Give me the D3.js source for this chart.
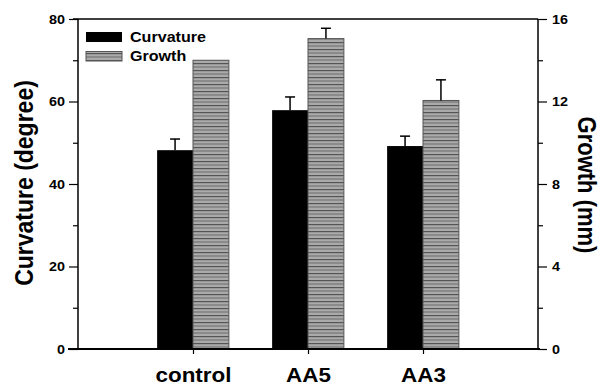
<!DOCTYPE html>
<html lang="en">
<head>
    <meta charset="UTF-8">
    <title>Curvature and growth</title>
    <style>
        body { margin: 0; background: #fff; }
        text { font-family: "Liberation Sans", Arial, sans-serif; font-weight: bold; fill: #000; }
    </style>
</head>
<script src="https://d3js.org/d3.v7.min.js"></script>
<body>
<svg width="600" height="388" class="chart"></svg>

<script>
    var categories = ["control", "AA5", "AA3"];
    var curvature = [48.2, 57.9, 49.2];
    var curvatureErr = [2.7, 3.2, 2.4];
    var growth = [14.0, 15.05, 12.05];
    var growthErr = [0, 0.5, 1.0];
    var leftTicks = [0, 20, 40, 60, 80];
    var rightTicks = [0, 4, 8, 12, 16];

    var svg = d3.select("svg.chart");
    var plotLeft = 78, plotRight = 538, plotTop = 19, plotBottom = 349;
    var sx = 1.15; // text in the original is a bit wider than normal

    var x = d3.scaleLinear().domain([0, 4]).range([plotLeft, plotRight]);
    var yL = d3.scaleLinear().domain([0, 80]).range([plotBottom, plotTop]);
    var yR = d3.scaleLinear().domain([0, 16]).range([plotBottom, plotTop]);
    var barW = (x(1) - x(0)) * 0.312;

    // widen text horizontally around its anchor point
    function stretch(sel) {
        sel.each(function () {
            var t = d3.select(this);
            var x0 = +t.attr("x") || 0, y0 = +t.attr("y") || 0;
            t.attr("transform", "translate(" + x0 + "," + y0 + ") scale(" + sx + ",1) translate(" + (-x0) + "," + (-y0) + ")");
        });
    }

    // hatch pattern for growth bars
    var defs = svg.append("defs");
    var pat = defs.append("pattern")
        .attr("id", "hatch")
        .attr("patternUnits", "userSpaceOnUse")
        .attr("width", 8).attr("height", 7);
    pat.append("rect").attr("width", 8).attr("height", 7).attr("fill", "#aaaaaa");
    pat.append("rect").attr("y", 0).attr("width", 8).attr("height", 1.2).attr("fill", "#555");
    pat.append("rect").attr("y", 3.5).attr("width", 8).attr("height", 1).attr("fill", "#6a6a6a");

    // bars
    var g = svg.append("g");
    g.selectAll(".curv")
        .data(curvature)
        .enter().append("rect")
        .attr("class", "curv")
        .attr("x", function (d, i) { return x(i + 1) - barW; })
        .attr("y", function (d) { return yL(d); })
        .attr("width", barW)
        .attr("height", function (d) { return plotBottom - yL(d); })
        .attr("fill", "#000");

    g.selectAll(".grow")
        .data(growth)
        .enter().append("rect")
        .attr("class", "grow")
        .attr("x", function (d, i) { return x(i + 1); })
        .attr("y", function (d) { return yR(d); })
        .attr("width", barW)
        .attr("height", function (d) { return plotBottom - yR(d); })
        .attr("fill", "url(#hatch)")
        .attr("stroke", "#555")
        .attr("stroke-width", 1);

    // error bars (upper only)
    function errBars(vals, errs, scale, offset) {
        vals.forEach(function (v, i) {
            if (!errs[i]) return;
            var cx = x(i + 1) + offset;
            g.append("line")
                .attr("x1", cx).attr("x2", cx)
                .attr("y1", scale(v)).attr("y2", scale(v + errs[i]))
                .attr("stroke", "#000").attr("stroke-width", 1.5);
            g.append("line")
                .attr("x1", cx - 5).attr("x2", cx + 5)
                .attr("y1", scale(v + errs[i])).attr("y2", scale(v + errs[i]))
                .attr("stroke", "#000").attr("stroke-width", 1.5);
        });
    }
    errBars(curvature, curvatureErr, yL, -barW / 2);
    errBars(growth, growthErr, yR, barW / 2);

    // frame lines
    svg.append("line").attr("x1", 73).attr("x2", plotRight).attr("y1", plotTop).attr("y2", plotTop)
        .attr("stroke", "#000").attr("stroke-width", 1.5);
    svg.append("line").attr("x1", 68).attr("x2", plotRight + 2).attr("y1", plotBottom).attr("y2", plotBottom)
        .attr("stroke", "#000").attr("stroke-width", 2);

    // left axis
    var leftAxis = svg.append("g")
        .attr("transform", "translate(" + plotLeft + ",0)")
        .call(d3.axisLeft(yL).tickValues(leftTicks).tickSize(9).tickPadding(4).tickFormat(d3.format("d")));
    svg.append("g")
        .attr("transform", "translate(" + plotLeft + ",0)")
        .call(d3.axisLeft(yL).tickValues([10, 30, 50, 70]).tickSize(5).tickFormat(""))
        .select(".domain").remove();

    // right axis
    var rightAxis = svg.append("g")
        .attr("transform", "translate(" + plotRight + ",0)")
        .call(d3.axisRight(yR).tickValues(rightTicks).tickSize(9).tickPadding(5).tickFormat(d3.format("d")));
    svg.append("g")
        .attr("transform", "translate(" + plotRight + ",0)")
        .call(d3.axisRight(yR).tickValues([2, 6, 10, 14]).tickSize(5).tickFormat(""))
        .select(".domain").remove();

    // bottom category ticks
    var bottomAxis = svg.append("g")
        .attr("transform", "translate(0," + plotBottom + ")")
        .call(d3.axisBottom(x).tickValues([1, 2, 3]).tickSize(5).tickPadding(14)
            .tickFormat(function (d) { return categories[d - 1]; }));
    bottomAxis.select(".domain").remove();
    bottomAxis.selectAll("text").attr("font-size", "19.5px").call(stretch);

    svg.selectAll(".domain").attr("stroke-width", 1.5);
    svg.selectAll(".tick line").attr("stroke-width", 1.2);
    leftAxis.selectAll("text").attr("font-size", "12.5px").call(stretch);
    rightAxis.selectAll("text").attr("font-size", "12.5px").call(stretch);
    leftAxis.select(".domain").attr("d", "M0," + plotTop + "V" + plotBottom);
    rightAxis.select(".domain").attr("d", "M0," + plotTop + "V" + plotBottom);

    // axis titles
    svg.append("text")
        .attr("transform", "translate(24,183) scale(" + sx + ",1) rotate(-90)")
        .attr("text-anchor", "middle")
        .attr("dy", "0.35em")
        .attr("font-size", "23px")
        .text("Curvature (degree)");
    svg.append("text")
        .attr("transform", "translate(587,185) scale(" + sx + ",1) rotate(90)")
        .attr("text-anchor", "middle")
        .attr("dy", "0.35em")
        .attr("font-size", "22px")
        .text("Growth (mm)");

    // legend
    var legend = svg.append("g").attr("transform", "translate(86,32)");
    legend.append("rect").attr("width", 36).attr("height", 10).attr("fill", "#000");
    legend.append("rect").attr("y", 19.5).attr("width", 36).attr("height", 9.5)
        .attr("fill", "url(#hatch)").attr("stroke", "#555");
    legend.append("text").attr("x", 44).attr("y", 9.5).attr("font-size", "14px").text("Curvature").call(stretch);
    legend.append("text").attr("x", 44).attr("y", 29).attr("font-size", "14px").text("Growth").call(stretch);
</script>
</body>
</html>
